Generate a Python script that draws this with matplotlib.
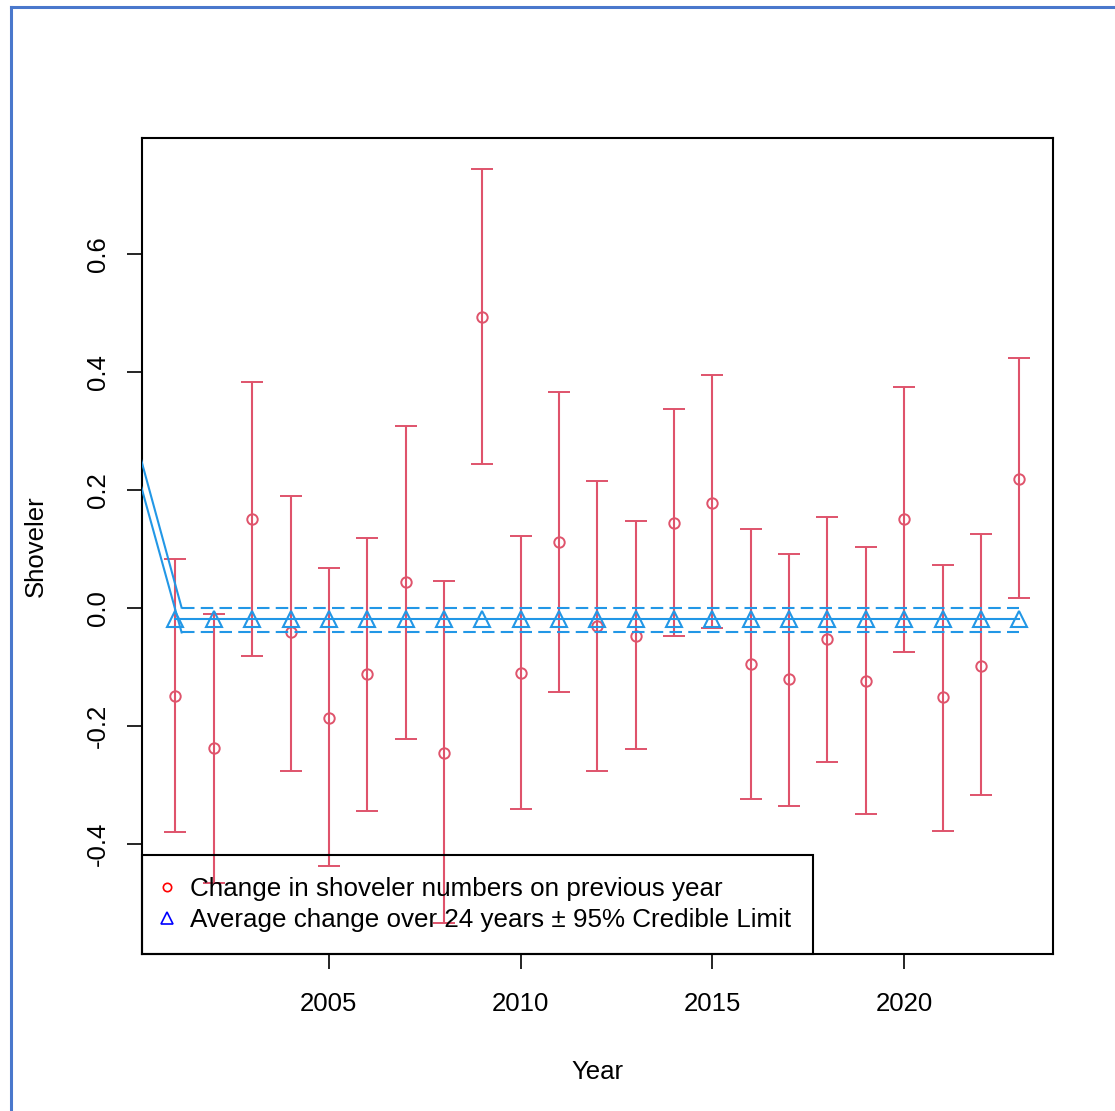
import matplotlib.pyplot as plt
from matplotlib.lines import Line2D
import numpy as np

plt.rcParams['font.family'] = ['Liberation Sans', 'DejaVu Sans']

years = list(range(2001, 2024))
# yearly change on previous year with 95% limits
change = [-0.150, -0.238, 0.150, -0.042, -0.187, -0.113, 0.043, -0.246, 0.493, -0.111,
          0.111, -0.031, -0.048, 0.144, 0.178, -0.096, -0.121, -0.053, -0.124, 0.150,
          -0.152, -0.099, 0.218]
upper = [0.082, -0.011, 0.382, 0.189, 0.068, 0.118, 0.308, 0.045, 0.743, 0.121,
         0.365, 0.215, 0.147, 0.336, 0.394, 0.133, 0.091, 0.153, 0.102, 0.374,
         0.072, 0.125, 0.423]
lower = [-0.381, -0.467, -0.082, -0.277, -0.438, -0.345, -0.223, -0.534, 0.243, -0.342,
         -0.143, -0.277, -0.240, -0.048, -0.034, -0.325, -0.336, -0.261, -0.350, -0.075,
         -0.379, -0.318, 0.016]

# average change and credible limits
avg_change = [-0.0195] * len(years)
cl_x = [2001.16, 2023]
cl_upper = [0.0, 0.0]
cl_lower = [-0.042, -0.042]
# lead-in segments of the limit lines (start off the left edge)
lead_x = [2000.0, 2001.16]
lead_upper = [0.2755, 0.0]
lead_lower = [0.230, -0.042]

red = '#DF536B'
blue = '#2297E6'

fig = plt.figure(figsize=(11.15, 11.11), dpi=100)
ax = fig.add_axes([0.1271, 0.1413, 0.8173, 0.7345])

ch = np.array(change)
yerr = [ch - np.array(lower), np.array(upper) - ch]
ax.errorbar(years, change, yerr=yerr, fmt='o', color=red, ecolor=red,
            mfc='none', mec=red, ms=7.5, mew=1.4, elinewidth=1.5,
            capsize=8, capthick=1.5, zorder=2)

ax.plot(years, avg_change, color=blue, lw=1.5, marker='^', ms=11.5,
        mfc='none', mec=blue, mew=1.5, zorder=3)
ax.plot(cl_x, cl_upper, color=blue, lw=1.5, dashes=(6, 3), zorder=3)
ax.plot(cl_x, cl_lower, color=blue, lw=1.5, dashes=(6, 3), zorder=3)
ax.plot(lead_x, lead_upper, color=blue, lw=1.5, zorder=3)
ax.plot(lead_x, lead_lower, color=blue, lw=1.5, zorder=3)

ax.set_xlim(2000.12, 2023.88)
ax.set_ylim(-0.587, 0.796)

ax.set_xticks([2005, 2010, 2015, 2020])
ax.set_xticklabels(['2005', '2010', '2015', '2020'])
ax.set_yticks([-0.4, -0.2, 0.0, 0.2, 0.4, 0.6])
ax.set_yticklabels(['-0.4', '-0.2', '0.0', '0.2', '0.4', '0.6'], rotation=90, va='center')
ax.tick_params(axis='both', length=11, width=1.2, labelsize=18.5)
ax.tick_params(axis='x', pad=16)
ax.tick_params(axis='y', pad=12)
for s in ax.spines.values():
    s.set_linewidth(1.5)

ax.set_xlabel('Year', fontsize=18.5, labelpad=32)
ax.set_ylabel('Shoveler', fontsize=18.5, labelpad=27)

handles = [Line2D([], [], ls='none', marker='o', ms=6, mfc='none', mec='red', mew=1.2),
           Line2D([], [], ls='none', marker='^', ms=8, mfc='none', mec='blue', mew=1.2)]
leg = ax.legend(handles, ['Change in shoveler numbers on previous year',
                          'Average change over 24 years \u00b1 95% Credible Limit'],
                loc='lower left', bbox_to_anchor=(0, 0), borderaxespad=0,
                fontsize=18.7, frameon=True, fancybox=False, framealpha=1,
                facecolor='none', edgecolor='black', borderpad=0.85,
                handlelength=0.25, handletextpad=0.77, labelspacing=0.25)
leg.get_frame().set_linewidth(1.5)

# outer blue frame of the original screenshot
fig.add_artist(Line2D([10.5 / 1115, 10.5 / 1115], [0, 1 - 6.5 / 1111],
                      transform=fig.transFigure, color='#4A78CC', lw=2.2))
fig.add_artist(Line2D([10.5 / 1115, 1], [1 - 6.5 / 1111, 1 - 6.5 / 1111],
                      transform=fig.transFigure, color='#4A78CC', lw=2.2))

fig.savefig('out.png', dpi=100)
